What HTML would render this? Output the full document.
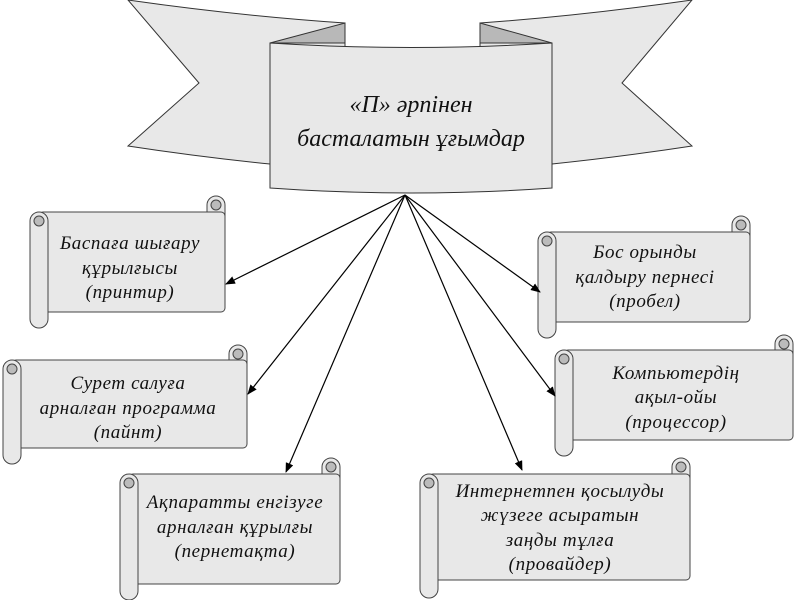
<!DOCTYPE html>
<html><head><meta charset="utf-8"><style>
body{margin:0;background:#fff}
svg text{font-family:"Liberation Serif",serif;font-style:italic;fill:#111}
</style></head><body>
<svg width="795" height="600" viewBox="0 0 795 600" xmlns="http://www.w3.org/2000/svg">
<defs>
<marker id="a" markerWidth="10" markerHeight="8" refX="9" refY="4" orient="auto" markerUnits="userSpaceOnUse">
<path d="M0,0 L10,4 L0,8 Z" fill="#000"/></marker>
</defs>
<g stroke="#333" stroke-width="1">
<path d="M128,0 Q240,16 345,23 L345,160 L270,164 Q200,157 128,146 L199,83 Z" fill="#e8e8e8"/>
<path d="M270,43 L345,23 L345,43 Z" fill="#b8b8b8"/>
<path d="M692,0 Q580,16 480,23 L480,160 L552,164 Q620,157 692,146 L622,83 Z" fill="#e8e8e8"/>
<path d="M552,43 L480,23 L480,43 Z" fill="#b8b8b8"/>
<path d="M270,43 Q411,52 552,43 L552,188 Q411,198 270,188 Z" fill="#e8e8e8"/>
</g>
<text x="411" y="112" font-size="24" text-anchor="middle">«П» әрпінен</text>
<text x="411" y="146" font-size="24" text-anchor="middle">басталатын ұғымдар</text>

<g stroke="#444" stroke-width="1" fill="#e8e8e8">
<g><rect x="207" y="196" width="18" height="30" rx="9"/><rect x="39" y="212" width="186" height="100" rx="4"/><rect x="30" y="212" width="18" height="116" rx="9"/><circle cx="216" cy="205" r="5" fill="#bbb"/><circle cx="39" cy="221" r="5" fill="#bbb"/></g>
<g><rect x="732" y="216" width="18" height="30" rx="9"/><rect x="547" y="232" width="203" height="90" rx="4"/><rect x="538" y="232" width="18" height="106" rx="9"/><circle cx="741" cy="225" r="5" fill="#bbb"/><circle cx="547" cy="241" r="5" fill="#bbb"/></g>
<g><rect x="229" y="345" width="18" height="30" rx="9"/><rect x="12" y="360" width="235" height="88" rx="4"/><rect x="3" y="360" width="18" height="104" rx="9"/><circle cx="238" cy="354" r="5" fill="#bbb"/><circle cx="12" cy="369" r="5" fill="#bbb"/></g>
<g><rect x="775" y="335" width="18" height="30" rx="9"/><rect x="564" y="350" width="229" height="90" rx="4"/><rect x="555" y="350" width="18" height="106" rx="9"/><circle cx="784" cy="344" r="5" fill="#bbb"/><circle cx="564" cy="359" r="5" fill="#bbb"/></g>
<g><rect x="322" y="458" width="18" height="30" rx="9"/><rect x="129" y="474" width="211" height="110" rx="4"/><rect x="120" y="474" width="18" height="126" rx="9"/><circle cx="331" cy="467" r="5" fill="#bbb"/><circle cx="129" cy="483" r="5" fill="#bbb"/></g>
<g><rect x="672" y="458" width="18" height="30" rx="9"/><rect x="429" y="474" width="261" height="106" rx="4"/><rect x="420" y="474" width="18" height="124" rx="9"/><circle cx="681" cy="467" r="5" fill="#bbb"/><circle cx="429" cy="483" r="5" fill="#bbb"/></g>
</g>

<g stroke="#000" stroke-width="1.2" marker-end="url(#a)">
<line x1="405" y1="195" x2="226" y2="284"/>
<line x1="405" y1="195" x2="540" y2="292"/>
<line x1="405" y1="195" x2="248" y2="394"/>
<line x1="405" y1="195" x2="555" y2="396"/>
<line x1="405" y1="195" x2="286" y2="472"/>
<line x1="405" y1="195" x2="522" y2="470"/>
</g>

<g font-size="19" text-anchor="middle" letter-spacing="0.6">
<text x="130" y="249">Баспаға шығару</text>
<text x="130" y="274">құрылғысы</text>
<text x="130" y="298">(принтир)</text>
<text x="645" y="258">Бос орынды</text>
<text x="645" y="283">қалдыру пернесі</text>
<text x="645" y="307">(пробел)</text>
<text x="128" y="389">Сурет салуға</text>
<text x="128" y="414">арналған программа</text>
<text x="128" y="438">(пайнт)</text>
<text x="676" y="379">Компьютердің</text>
<text x="676" y="403">ақыл-ойы</text>
<text x="676" y="428">(процессор)</text>
<text x="235" y="508">Ақпаратты енгізуге</text>
<text x="235" y="533">арналған құрылғы</text>
<text x="235" y="557">(пернетақта)</text>
<text x="560" y="497">Интернетпен қосылуды</text>
<text x="560" y="521">жүзеге асыратын</text>
<text x="560" y="546">заңды тұлға</text>
<text x="560" y="570">(провайдер)</text>
</g>
</svg>
</body></html>
